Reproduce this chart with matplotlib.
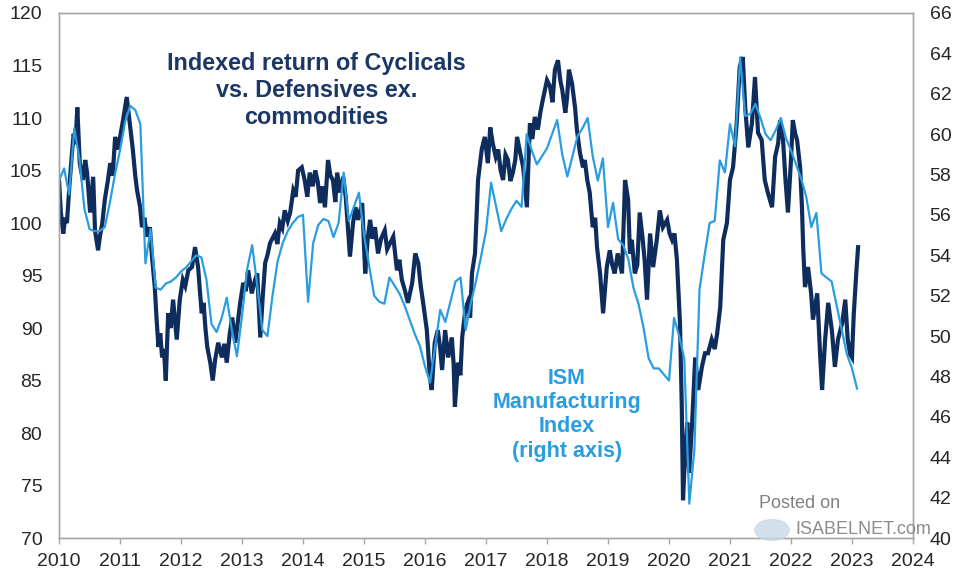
import numpy as np
import matplotlib.pyplot as plt

plt.rcParams['font.family'] = ['Liberation Sans', 'DejaVu Sans']

# Cyclicals vs Defensives ex. commodities (left axis), dates as decimal years
cyc_t = [2010.00, 2010.03, 2010.07, 2010.10, 2010.13, 2010.17, 2010.21, 2010.24, 2010.27, 2010.30,
         2010.34, 2010.39, 2010.43, 2010.46, 2010.51, 2010.56, 2010.59, 2010.64, 2010.67, 2010.71,
         2010.75, 2010.80, 2010.84, 2010.88, 2010.92, 2010.97,
         2011.01, 2011.05, 2011.11, 2011.16, 2011.21, 2011.25, 2011.28, 2011.33, 2011.36, 2011.40,
         2011.44, 2011.49, 2011.52, 2011.57, 2011.60, 2011.63, 2011.66, 2011.69, 2011.72, 2011.75,
         2011.79, 2011.83, 2011.87, 2011.93, 2011.98,
         2012.03, 2012.07, 2012.12, 2012.18, 2012.23, 2012.28, 2012.31, 2012.34, 2012.37, 2012.40,
         2012.43, 2012.48, 2012.52, 2012.56, 2012.61, 2012.67, 2012.71, 2012.75, 2012.80, 2012.84,
         2012.89, 2012.93, 2012.97,
         2013.02, 2013.06, 2013.10, 2013.16, 2013.21, 2013.25, 2013.30, 2013.34, 2013.38, 2013.42,
         2013.46, 2013.54, 2013.58, 2013.62, 2013.66, 2013.70, 2013.75, 2013.79, 2013.84, 2013.88,
         2013.92, 2013.98,
         2014.03, 2014.07, 2014.11, 2014.16, 2014.20, 2014.24, 2014.28, 2014.32, 2014.36, 2014.41,
         2014.45, 2014.49, 2014.53, 2014.56, 2014.61, 2014.66, 2014.70, 2014.74, 2014.77, 2014.82,
         2014.86, 2014.90, 2014.97,
         2015.02, 2015.06, 2015.10, 2015.14, 2015.18, 2015.23, 2015.28, 2015.34, 2015.38, 2015.43,
         2015.48, 2015.54, 2015.58, 2015.62, 2015.67, 2015.72, 2015.79, 2015.84, 2015.89, 2015.93,
         2015.97,
         2016.03, 2016.08, 2016.11, 2016.16, 2016.21, 2016.25, 2016.28, 2016.33, 2016.38, 2016.44,
         2016.47, 2016.49, 2016.54, 2016.58, 2016.61, 2016.66, 2016.70, 2016.74, 2016.77, 2016.82,
         2016.87, 2016.93, 2016.98,
         2017.03, 2017.07, 2017.11, 2017.16, 2017.20, 2017.24, 2017.28, 2017.32, 2017.36, 2017.40,
         2017.44, 2017.48, 2017.51, 2017.56, 2017.61, 2017.67, 2017.72, 2017.76, 2017.80, 2017.85,
         2017.89, 2017.93,
         2018.00, 2018.05, 2018.09, 2018.13, 2018.18, 2018.22, 2018.25, 2018.30, 2018.33, 2018.36,
         2018.41, 2018.46, 2018.49, 2018.54, 2018.59, 2018.62, 2018.66, 2018.70, 2018.75, 2018.79,
         2018.82, 2018.87, 2018.92, 2018.98,
         2019.03, 2019.07, 2019.11, 2019.16, 2019.20, 2019.23, 2019.28, 2019.33, 2019.36, 2019.39,
         2019.44, 2019.48, 2019.52, 2019.57, 2019.60, 2019.64, 2019.69, 2019.74, 2019.80, 2019.85,
         2019.90, 2019.97,
         2020.01, 2020.05, 2020.09, 2020.13, 2020.18, 2020.21, 2020.23, 2020.26, 2020.30, 2020.33,
         2020.38, 2020.43, 2020.48, 2020.54, 2020.59, 2020.64, 2020.70, 2020.75, 2020.79, 2020.84,
         2020.89, 2020.95,
         2021.00, 2021.05, 2021.11, 2021.16, 2021.21, 2021.25, 2021.30, 2021.36, 2021.41, 2021.46,
         2021.52, 2021.57, 2021.62, 2021.69, 2021.74, 2021.79, 2021.82, 2021.87, 2021.91, 2021.95,
         2022.00, 2022.03, 2022.07, 2022.10, 2022.15, 2022.18, 2022.20, 2022.23, 2022.28, 2022.33,
         2022.36, 2022.43, 2022.48, 2022.51, 2022.56, 2022.61, 2022.67, 2022.72, 2022.77, 2022.84,
         2022.89, 2022.93, 2022.97,
         2023.00, 2023.03, 2023.07, 2023.10]

cyc_v = [104.1, 101.0, 99.0, 100.5, 100.0, 103.5, 106.5, 108.5, 107.5, 111.0,
         105.7, 104.1, 106.0, 104.8, 101.0, 104.4, 99.3, 97.4, 98.7, 100.0,
         102.2, 104.0, 105.7, 104.5, 108.2, 107.0,
         108.5, 109.8, 112.0, 109.5, 107.0, 104.5, 103.1, 101.5, 99.6, 100.5,
         98.7, 99.6, 97.1, 93.9, 90.8, 88.2, 89.5, 87.2, 88.0, 85.0,
         91.4, 90.0, 92.7, 88.9, 92.7,
         94.6, 94.0, 95.5, 95.8, 97.7, 95.8, 93.5, 91.4, 92.4, 90.0,
         88.2, 86.7, 85.0, 87.0, 88.6, 87.2, 88.5, 86.7, 89.5, 91.0,
         88.6, 90.5, 92.4,
         94.3, 93.5, 95.5, 93.3, 94.5, 95.2, 89.1, 93.0, 96.2, 97.0,
         98.1, 99.0, 98.0, 100.0, 99.5, 101.2, 100.2, 101.0, 103.1, 102.5,
         105.0, 105.3,
         104.0, 102.5, 104.8, 103.5, 105.0, 104.0, 101.9, 103.5, 101.5, 106.0,
         104.5, 104.1, 102.0, 104.8, 102.9, 104.4, 102.5, 99.3, 96.8, 100.0,
         101.5, 100.3, 101.9,
         95.2, 98.5, 100.3, 98.5, 99.6, 97.1, 98.5, 99.3, 97.5, 98.1,
         98.7, 95.5, 96.5, 94.6, 93.6, 92.4, 94.3, 97.1, 96.2, 94.0,
         92.4,
         89.8, 85.3, 84.1, 88.6, 89.8, 88.0, 86.0, 89.8, 87.2, 89.1,
         86.5, 82.5, 86.7, 85.5, 89.1, 91.7, 92.4, 91.0, 95.2, 97.1,
         104.1, 107.0, 108.2,
         105.7, 109.1, 107.6, 106.3, 107.0, 105.0, 104.1, 106.5, 106.0, 104.0,
         104.8, 106.0, 108.2, 106.7, 105.3, 101.5, 109.5, 108.0, 110.1, 108.9,
         110.5, 111.7,
         113.6, 113.0, 111.5, 114.6, 115.5, 113.5, 112.7, 110.5, 112.0, 114.6,
         113.3, 111.0, 108.9, 106.7, 105.3, 106.0, 104.1, 102.9, 99.6, 100.5,
         97.7, 95.2, 91.4, 95.8,
         97.4, 96.0, 95.2, 97.1, 96.0, 95.2, 104.1, 102.2, 97.1, 98.4,
         95.2, 96.0, 101.0, 98.4, 96.5, 92.7, 99.0, 95.8, 98.4, 101.2,
         99.6, 100.3,
         99.0, 98.4, 99.0, 96.5, 90.5, 82.5, 73.6, 77.5, 81.0, 76.2,
         81.0, 87.2, 84.1, 86.3, 87.6, 87.6, 88.9, 88.0, 89.5, 92.0,
         98.4, 100.0,
         104.1, 105.3, 109.5, 114.9, 115.8, 111.0, 107.2, 109.5, 113.9, 108.6,
         107.9, 104.1, 102.9, 101.5, 106.3, 107.6, 109.8, 107.9, 104.1, 101.0,
         106.0, 109.8, 108.5, 107.9, 105.3, 101.5, 97.7, 93.9, 95.8, 93.3,
         90.8, 93.3, 87.2, 84.1, 88.9, 92.4, 89.8, 86.3, 88.9, 90.5,
         92.7, 88.9, 87.5,
         87.2, 91.4, 95.2, 97.7]

# ISM Manufacturing Index (right axis), monthly from Jan 2010
ism_2010 = [57.7, 58.3, 57.0, 60.3, 58.8, 56.3, 55.3, 55.2, 55.2, 55.4, 56.6, 58.0]
ism_2011 = [59.2, 60.6, 61.4, 61.2, 60.5, 53.6, 55.3, 52.4, 52.3, 52.6, 52.7, 52.9]
ism_2012 = [53.2, 53.4, 53.7, 54.0, 53.9, 52.8, 50.6, 50.2, 50.9, 51.9, 50.3, 49.0]
ism_2013 = [51.0, 53.3, 54.5, 52.5, 50.3, 50.0, 52.0, 53.7, 54.6, 55.2, 55.6, 55.9]
ism_2014 = [56.0, 51.7, 54.6, 55.5, 55.8, 55.7, 54.9, 55.6, 58.1, 55.7, 56.4, 57.1]
ism_2015 = [55.0, 53.5, 52.0, 51.7, 51.6, 52.9, 52.5, 52.1, 51.5, 50.8, 50.1, 49.5]
ism_2016 = [48.5, 47.7, 49.5, 51.3, 50.7, 51.7, 52.7, 52.9, 50.3, 51.6, 52.7, 53.9]
ism_2017 = [55.2, 57.6, 56.4, 55.2, 55.8, 56.3, 56.7, 56.4, 60.0, 59.2, 58.5, 58.9]
ism_2018 = [59.3, 60.0, 60.7, 59.0, 57.9, 58.9, 59.9, 60.3, 60.8, 58.9, 57.7, 58.8]
ism_2019 = [55.4, 56.6, 54.8, 54.5, 53.8, 52.4, 51.6, 50.4, 48.9, 48.4, 48.4, 48.1]
ism_2020 = [47.8, 50.9, 50.0, 48.9, 41.7, 44.4, 52.3, 54.0, 55.6, 55.7, 58.7, 58.1]
ism_2021 = [60.5, 59.4, 63.8, 60.9, 61.0, 61.5, 60.8, 60.0, 59.7, 60.2, 60.8, 59.8]
ism_2022 = [59.2, 58.5, 57.8, 56.9, 55.4, 56.1, 53.1, 52.9, 52.7, 51.5, 50.3, 49.1]
ism_2023 = [48.4, 47.4]

ism_v = (ism_2010 + ism_2011 + ism_2012 + ism_2013 + ism_2014 + ism_2015 + ism_2016
         + ism_2017 + ism_2018 + ism_2019 + ism_2020 + ism_2021 + ism_2022 + ism_2023)
ism_t = 2010 + np.arange(len(ism_v)) / 12

years = list(range(2010, 2025))

dark = '#0e2c5c'
light = '#2a9de0'
grey = '#a6a6a6'
txt = '#262626'

fig = plt.figure(figsize=(9.58, 5.75), dpi=100)
ax = fig.add_axes([0.0616, 0.0643, 0.8914, 0.9131])
ax2 = ax.twinx()

ax.plot(cyc_t, cyc_v, color=dark, lw=3.0, solid_joinstyle='miter')
ax2.plot(ism_t, ism_v, color=light, lw=1.6)

ax.set_xlim(2010, 2024)
ax.set_ylim(70, 120)
ax2.set_ylim(40, 66)
ax.set_xticks(years)
ax.set_xticklabels([str(y) for y in years])
ax.set_yticks(np.arange(70, 121, 5))
ax2.set_yticks(np.arange(40, 67, 2))

for a in (ax, ax2):
    for s in a.spines.values():
        s.set_color(grey)
        s.set_linewidth(1.0)
ax.tick_params(axis='x', length=4, width=1, color=grey, pad=7, labelsize=14, labelcolor=txt)
ax.tick_params(axis='y', length=0, pad=12, labelsize=14, labelcolor=txt)
ax2.tick_params(axis='y', length=0, pad=12, labelsize=14, labelcolor=txt)

ax.text(2014.22, 112.6, 'Indexed return of Cyclicals\nvs. Defensives ex.\ncommodities',
        color='#1b3766', fontsize=16.8, fontweight='bold', ha='center', va='center',
        linespacing=1.22)
ax2.text(2018.33, 46.1, 'ISM\nManufacturing\nIndex\n(right axis)',
         color=light, fontsize=15.5, fontweight='bold', ha='center', va='center',
         linespacing=1.2)

# watermark
fig.text(800 / 958, 1 - 504 / 575, 'Posted on', color='#808080', fontsize=13,
         ha='center', va='center')
fig.text(863 / 958, 1 - 530 / 575, 'ISABELNET.com', color='#8c8c8c', fontsize=13,
         ha='center', va='center')
fig.patches.append(plt.Circle((772 / 958, 1 - 530 / 575), 0.018, transform=fig.transFigure,
                              color='#c9d9e6', alpha=0.8, zorder=5))

fig.savefig('out.png', dpi=100)
